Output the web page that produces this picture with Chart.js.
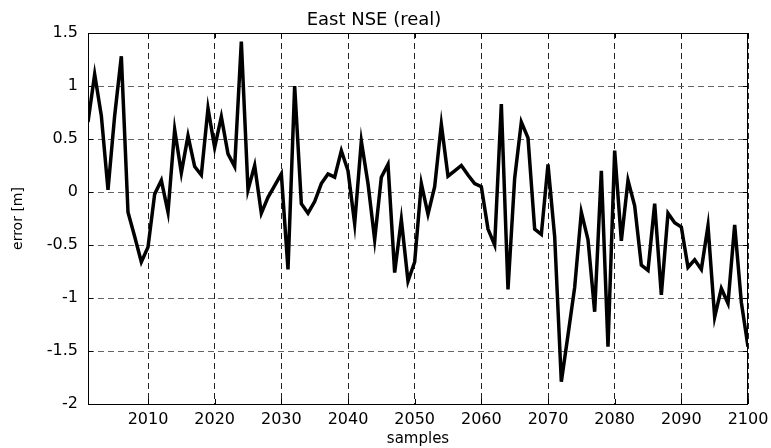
<!DOCTYPE html>
<html>
<head>
<meta charset="utf-8">
<script src="https://cdn.jsdelivr.net/npm/chart.js@4"></script>
<style>
  html, body { margin: 0; padding: 0; background: #fff; }
  #wrap { width: 771px; height: 448px; }
</style>
</head>
<body>
<div id="wrap"><canvas id="myChart" width="771" height="448"></canvas></div>
<script>
// samples 2001..2100
const samples = [];
for (let s = 2001; s <= 2100; s++) samples.push(s);

// east error [m]
const errorEast = [
    0.66, 1.11, 0.72, 0.02, 0.72, 1.28, -0.19, -0.42, -0.66, -0.52,
    -0.02, 0.11, -0.19, 0.59, 0.18, 0.53, 0.24, 0.16, 0.79, 0.42,
    0.71, 0.36, 0.24, 1.42, 0.02, 0.25, -0.20, -0.05, 0.06, 0.17,
    -0.73, 1.00, -0.11, -0.20, -0.09, 0.08, 0.17, 0.14, 0.39, 0.20,
    -0.30, 0.48, 0.08, -0.45, 0.14, 0.26, -0.76, -0.26, -0.84, -0.66,
    0.08, -0.21, 0.05, 0.64, 0.15, 0.20, 0.25, 0.16, 0.08, 0.05,
    -0.35, -0.50, 0.83, -0.92, 0.13, 0.66, 0.51, -0.35, -0.40, 0.26,
    -0.42, -1.79, -1.35, -0.90, -0.19, -0.45, -1.13, 0.20, -1.46, 0.39,
    -0.46, 0.11, -0.13, -0.69, -0.74, -0.11, -0.97, -0.20, -0.29, -0.33,
    -0.71, -0.64, -0.73, -0.32, -1.18, -0.91, -1.05, -0.31, -1.04, -1.46
];

const xTicks = [2010, 2020, 2030, 2040, 2050, 2060, 2070, 2080, 2090, 2100];
const yTicks = [-2, -1.5, -1, -0.5, 0, 0.5, 1, 1.5];

const fontName = "'DejaVu Sans', sans-serif";

// box round the plot plus small inside ticks, matlab style
const framePlugin = {
    id: 'frame',
    afterDraw(chart) {
        const c = chart.ctx;
        const a = chart.chartArea;
        const xs = chart.scales.x;
        const ys = chart.scales.y;
        c.save();
        c.strokeStyle = '#000';
        c.lineWidth = 1;
        c.strokeRect(a.left + 0.5, a.top + 0.5, a.right - a.left - 1, a.bottom - a.top);
        c.beginPath();
        xTicks.forEach(v => {
            let px = Math.round(xs.getPixelForValue(v)) + 0.5;
            c.moveTo(px, a.bottom); c.lineTo(px, a.bottom - 5);
            c.moveTo(px, a.top); c.lineTo(px, a.top + 5);
        });
        yTicks.forEach(v => {
            let py = Math.round(ys.getPixelForValue(v)) + 0.5;
            c.moveTo(a.left, py); c.lineTo(a.left + 5, py);
            c.moveTo(a.right, py); c.lineTo(a.right - 5, py);
        });
        c.stroke();
        c.restore();
    }
};

const ctx = document.getElementById('myChart').getContext('2d');
const myChart = new Chart(ctx, {
    type: 'line',
    data: {
        labels: samples,
        datasets: [{
            data: samples.map((s, i) => ({x: s, y: errorEast[i]})),
            borderColor: '#000',
            borderWidth: 3.5,
            pointRadius: 0,
            tension: 0,
            fill: false
        }]
    },
    options: {
        responsive: false,
        animation: false,
        layout: { padding: { left: 0, right: 23, top: 0, bottom: 0 } },
        plugins: {
            legend: { display: false },
            tooltip: { enabled: false },
            title: {
                display: true,
                text: 'East NSE (real)',
                color: '#000',
                font: { family: fontName, size: 18, weight: 'normal' },
                padding: { top: 10, bottom: 1.4 }
            }
        },
        scales: {
            x: {
                type: 'linear',
                min: 2001,
                max: 2100,
                afterBuildTicks: scale => { scale.ticks = xTicks.map(v => ({ value: v })); },
                afterFit: scale => {
                    scale.height = 44;
                    scale.paddingLeft = 0;
                    scale.paddingRight = 0;
                },
                grid: { color: '#222', drawTicks: false, lineWidth: 1 },
                border: { display: false, dash: [6, 4] },
                ticks: {
                    color: '#000',
                    padding: 6,
                    maxRotation: 0,
                    font: { family: fontName, size: 16 },
                    callback: v => String(v)
                },
                title: {
                    display: true,
                    text: 'samples',
                    color: '#000',
                    font: { family: fontName, size: 15 },
                    padding: { top: 0, bottom: 0 }
                }
            },
            y: {
                min: -2,
                max: 1.5,
                afterBuildTicks: scale => { scale.ticks = yTicks.map(v => ({ value: v })); },
                afterFit: scale => { scale.width = 88; },
                grid: { color: '#666', drawTicks: false, lineWidth: 1 },
                border: { display: false, dash: [6, 4] },
                ticks: {
                    color: '#000',
                    padding: 10,
                    font: { family: fontName, size: 16 },
                    callback: v => String(v)
                },
                title: {
                    display: true,
                    text: 'error [m]',
                    color: '#000',
                    font: { family: fontName, size: 14 },
                    padding: { top: 10, bottom: 0 }
                }
            }
        }
    },
    plugins: [framePlugin]
});
</script>
</body>
</html>
